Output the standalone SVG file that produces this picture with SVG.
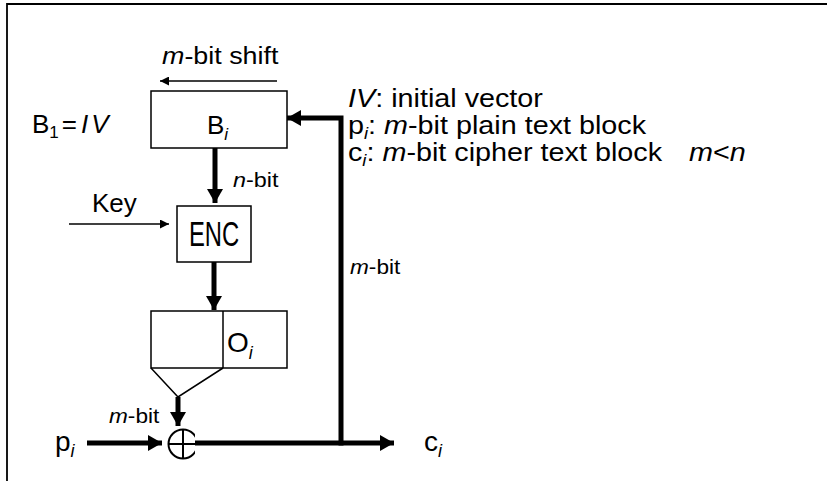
<svg xmlns="http://www.w3.org/2000/svg" width="827" height="481" viewBox="0 0 827 481">
<defs>
<style>
text{font-family:"Liberation Sans",Arial,sans-serif;fill:#000}
.it{font-style:italic}
.lg{font-size:25px}
.lb{font-size:26px}
.sm{font-size:19.5px}
.box{fill:#fff;stroke:#000;stroke-width:1.5}
.thick{stroke:#000;stroke-width:5;fill:none}
.thin{stroke:#000;stroke-width:1.5;fill:none}
</style>
<marker id="ah" viewBox="0 0 14 16" refX="14" refY="8" markerWidth="2.8" markerHeight="3.2" orient="auto" markerUnits="strokeWidth"><path d="M0,0L14,8L0,16z" fill="#000"/></marker>
<marker id="ahs" viewBox="0 0 10 10" refX="10" refY="5" markerWidth="6.5" markerHeight="6" orient="auto" markerUnits="strokeWidth"><path d="M0,0L10,5L0,10z" fill="#000"/></marker>
<clipPath id="xc"><rect x="150" y="420" width="45" height="50"/></clipPath>
</defs>
<rect width="827" height="481" fill="#fff"/>
<path d="M7,481V4H827" stroke="#000" stroke-width="1.8" fill="none"/>

<g id="connectors">
<line class="thin" x1="277" y1="81" x2="160" y2="81" marker-end="url(#ahs)"/>
<line class="thick" x1="215" y1="148" x2="215" y2="203" marker-end="url(#ah)"/>
<line class="thin" x1="69" y1="224" x2="169" y2="224" marker-end="url(#ahs)"/>
<line class="thick" x1="214" y1="262" x2="214" y2="310" marker-end="url(#ah)"/>
<line class="thick" x1="178" y1="397" x2="178" y2="426" marker-end="url(#ah)"/>
<line class="thick" x1="87" y1="443" x2="162" y2="443" marker-end="url(#ah)"/>
<line class="thick" x1="195" y1="443" x2="394" y2="443" marker-end="url(#ah)"/>
<polyline class="thick" points="341,445.5 341,118 287,118" marker-end="url(#ah)"/>
</g>

<g id="shift-label"><text font-size="24" transform="matrix(1.12 0 0 1 162 64)"><tspan class="it">m</tspan>-bit shift</text></g>
<g id="b1"><text class="lb" x="32" y="133">B<tspan font-size="17" dy="5">1</tspan><tspan dy="-5" dx="3">=</tspan><tspan class="it" dx="4" letter-spacing="3">IV</tspan></text></g>
<g id="Bi"><rect class="box" x="151" y="91" width="136" height="57"/><text class="lb" x="207" y="134">B<tspan font-size="17" dy="6" class="it">i</tspan></text></g>
<g id="nbit"><text class="sm" transform="matrix(1.2 0 0 1 233 187)"><tspan class="it">n</tspan>-bit</text></g>
<g id="key"><text class="lb" x="92" y="212">Key</text></g>
<g id="enc"><rect class="box" x="177" y="206" width="74" height="56"/><text font-size="35" text-anchor="middle" transform="matrix(0.68 0 0 1 214 246)">ENC</text></g>
<g id="Oi"><rect class="box" x="151" y="311" width="136" height="57"/><line class="thin" x1="223" y1="311" x2="223" y2="368"/><path class="thin" d="M151,368L178,397L223,368"/><text font-size="28" x="227" y="352">O<tspan font-size="18" dy="7" class="it">i</tspan></text></g>
<g id="mbit1"><text class="sm" transform="matrix(1.16 0 0 1 109 423)"><tspan class="it">m</tspan>-bit</text></g>
<g id="xor"><g clip-path="url(#xc)"><circle cx="183" cy="444" r="14.5" fill="#fff" stroke="#000" stroke-width="2"/><path d="M168,444H198M183,429.5V458.5" stroke="#000" stroke-width="2"/></g></g>
<g id="pi"><text font-size="28" x="55" y="451">p<tspan font-size="18" dy="6" class="it">i</tspan></text></g>
<g id="ci"><text font-size="28" x="424" y="451">c<tspan font-size="18" dy="6" class="it">i</tspan></text></g>
<g id="mbit2"><text class="sm" transform="matrix(1.16 0 0 1 350 274)"><tspan class="it">m</tspan>-bit</text></g>
<g id="legend">
<text class="lg" transform="matrix(1.15 0 0 1 348 107)"><tspan class="it">IV</tspan>: initial vector</text>
<text class="lg" transform="matrix(1.15 0 0 1 348 134)">p<tspan font-size="16" dy="5" class="it">i</tspan><tspan dy="-5">: </tspan><tspan class="it">m</tspan>-bit plain text block</text>
<text class="lg" transform="matrix(1.15 0 0 1 348 161)">c<tspan font-size="16" dy="5" class="it">i</tspan><tspan dy="-5">: </tspan><tspan class="it">m</tspan>-bit cipher text block</text>
<text class="lg" transform="matrix(1.15 0 0 1 689 161)"><tspan class="it">m</tspan>&lt;<tspan class="it">n</tspan></text>
</g>
</svg>
